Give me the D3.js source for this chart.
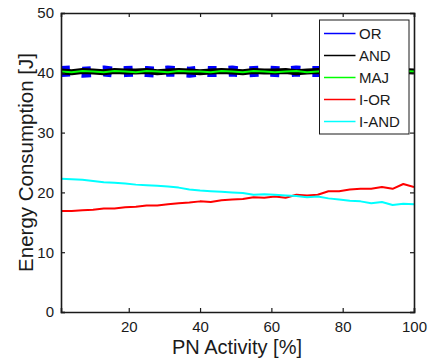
<!DOCTYPE html>
<html>
<head>
<meta charset="utf-8">
<script src="https://cdn.jsdelivr.net/npm/d3@7"></script>
<style>
	body { margin: 0; background: #fff; }
	text { font-family: "Liberation Sans", Arial, sans-serif; fill: #1a1a1a; }
</style>
</head>
<body>
<div id="chart"></div>
<script>
// PN activity [%]
const activity = [1, 4, 7, 10, 13, 16, 19, 22, 25, 28, 31, 34, 37, 40, 43, 46, 49, 52, 55, 58, 61, 64, 67, 70, 73, 76, 79, 82, 85, 88, 91, 94, 97, 100];

// energy consumption [J] per gate type
const orEnergy = [40.2, 40.3, 40.1, 40.2, 40.3, 40.1, 40.2, 40.3, 40.2, 40.1, 40.3, 40.2, 40.1, 40.3, 40.2, 40.2, 40.3, 40.1, 40.2, 40.3, 40.2, 40.1, 40.3, 40.2, 40.2, 40.3, 40.1, 40.2, 40.3, 40.2, 40.1, 40.3, 40.2, 40.2];
const andEnergy = [40.2, 40.1, 40.3, 40.2, 40.1, 40.3, 40.2, 40.2, 40.3, 40.1, 40.2, 40.3, 40.2, 40.1, 40.2, 40.3, 40.2, 40.1, 40.3, 40.2, 40.2, 40.3, 40.1, 40.2, 40.3, 40.2, 40.1, 40.2, 40.3, 40.2, 40.2, 40.1, 40.3, 40.2];
const majEnergy = [40.2, 40.1, 40.3, 40.2, 40.1, 40.3, 40.2, 40.1, 40.3, 40.2, 40.1, 40.3, 40.2, 40.2, 40.1, 40.3, 40.2, 40.1, 40.3, 40.2, 40.1, 40.2, 40.3, 40.1, 40.2, 40.3, 40.2, 40.1, 40.2, 40.3, 40.1, 40.2, 40.3, 40.2];
const iOrEnergy = [16.9, 16.9, 17.0, 17.1, 17.3, 17.3, 17.5, 17.6, 17.8, 17.8, 18.0, 18.2, 18.3, 18.5, 18.4, 18.7, 18.8, 18.9, 19.2, 19.1, 19.3, 19.1, 19.6, 19.5, 19.6, 20.2, 20.2, 20.5, 20.6, 20.6, 20.9, 20.6, 21.4, 20.9];
const iAndEnergy = [22.3, 22.2, 22.1, 21.9, 21.7, 21.6, 21.5, 21.3, 21.2, 21.1, 21.0, 20.8, 20.5, 20.3, 20.2, 20.1, 20.0, 19.9, 19.6, 19.7, 19.6, 19.5, 19.4, 19.2, 19.3, 19.0, 18.8, 18.6, 18.5, 18.2, 18.4, 17.9, 18.1, 18.0];

const xTicks = [20, 40, 60, 80, 100];
const yTicks = [0, 10, 20, 30, 40, 50];

const series = [
	{name: "OR", values: orEnergy, color: "#0000ff", width: 11, dash: "9,12"},
	{name: "AND", values: andEnergy, color: "#000000", width: 6},
	{name: "MAJ", values: majEnergy, color: "#00ff00", width: 2},
	{name: "I-OR", values: iOrEnergy, color: "#ff0000", width: 2},
	{name: "I-AND", values: iAndEnergy, color: "#00ffff", width: 2}
];

const margin = {top: 13, right: 14, bottom: 52, left: 61};
const fullWidth = 428, fullHeight = 364;
const width = fullWidth - margin.left - margin.right;
const height = fullHeight - margin.top - margin.bottom;

const svg = d3.select("#chart").append("svg")
	.attr("width", fullWidth)
	.attr("height", fullHeight);

const defs = svg.append("defs");
defs.append("clipPath").attr("id", "plot-clip")
	.append("rect").attr("width", width).attr("height", height);

const g = svg.append("g")
	.attr("transform", "translate(" + margin.left + "," + margin.top + ")");

const x = d3.scaleLinear().domain([1, 100]).range([0, width]);
const y = d3.scaleLinear().domain([0, 50]).range([height, 0]);

// lines
const line = d3.line()
	.x((d, i) => x(activity[i]))
	.y(d => y(d));

const lines = g.append("g").attr("clip-path", "url(#plot-clip)");
series.forEach(s => {
	lines.append("path")
		.datum(s.values)
		.attr("d", line)
		.attr("fill", "none")
		.attr("stroke", s.color)
		.attr("stroke-width", s.width)
		.attr("stroke-dasharray", s.dash || null)
		.attr("stroke-linejoin", "round");
});

// axes (ticks inward, box all round)
const tickLen = 4;
const xAxis = d3.axisBottom(x).tickValues(xTicks).tickSize(-tickLen).tickPadding(9);
const yAxis = d3.axisLeft(y).tickValues(yTicks).tickSize(-tickLen).tickPadding(7);

g.append("g").attr("transform", "translate(0," + height + ")").call(xAxis);
g.append("g").call(yAxis);
g.append("g").call(d3.axisTop(x).tickValues(xTicks).tickSize(-tickLen).tickFormat(""));
g.append("g").attr("transform", "translate(" + width + ",0)")
	.call(d3.axisRight(y).tickValues(yTicks).tickSize(-tickLen).tickFormat(""));

g.selectAll(".domain").attr("stroke", "#1a1a1a").attr("stroke-width", 1.6);
g.selectAll(".tick line").attr("stroke", "#1a1a1a").attr("stroke-width", 1.2);
g.selectAll(".tick text").style("font-size", "15px").attr("fill", "#1a1a1a");

// axis labels
svg.append("text")
	.attr("x", 237)
	.attr("y", 354)
	.attr("text-anchor", "middle")
	.style("font-size", "20px")
	.text("PN Activity [%]");

svg.append("text")
	.attr("transform", "translate(33," + (margin.top + height / 2) + ") rotate(-90)")
	.attr("text-anchor", "middle")
	.style("font-size", "20.5px")
	.text("Energy Consumption [J]");

// legend
const legend = svg.append("g").attr("transform", "translate(319.5,20)");
legend.append("rect")
	.attr("width", 89.5)
	.attr("height", 114)
	.attr("fill", "#fff")
	.attr("stroke", "#1a1a1a")
	.attr("stroke-width", 1);
const item = legend.selectAll("g.item")
	.data(series)
	.enter()
	.append("g")
	.classed("item", true)
	.attr("transform", (d, i) => "translate(0," + (13.5 + i * 22) + ")");
item.append("line")
	.attr("x1", 4.5).attr("x2", 36)
	.attr("stroke", d => d.color)
	.attr("stroke-width", 1.5);
item.append("text")
	.attr("x", 39.5)
	.attr("y", 5.5)
	.style("font-size", "15px")
	.text(d => d.name);
</script>
</body>
</html>
